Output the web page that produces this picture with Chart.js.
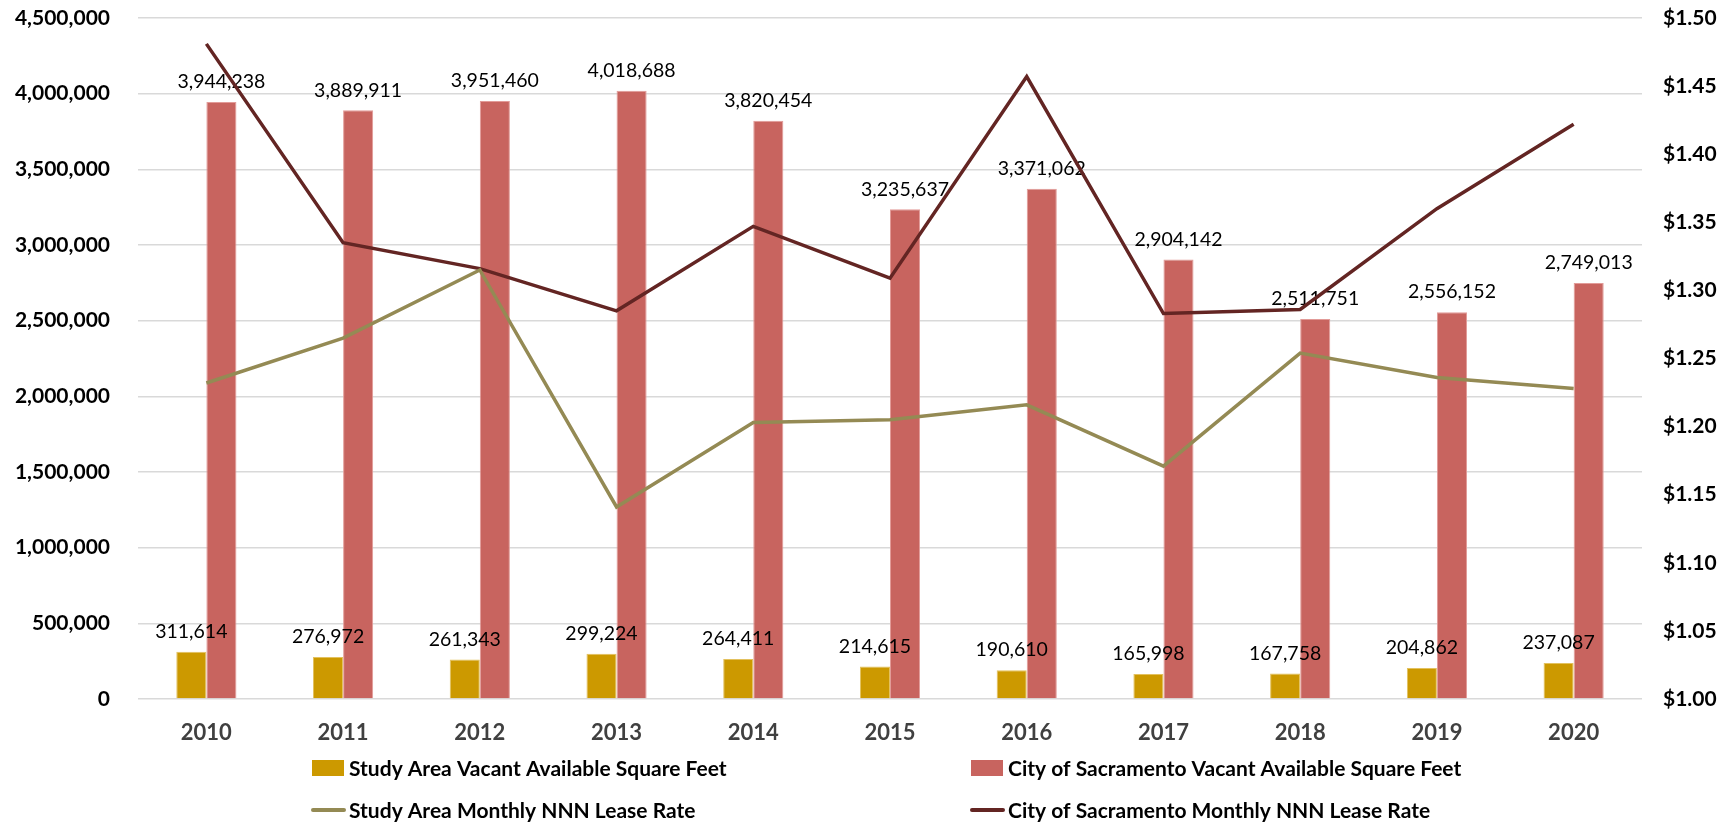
<!DOCTYPE html>
<html>
<head>
<meta charset="utf-8">
<script src="https://cdn.jsdelivr.net/npm/chart.js@4/dist/chart.umd.min.js"></script>
<style>
  html, body { margin: 0; padding: 0; background: #ffffff; }
  #wrap { width: 1725px; height: 824px; }
</style>
</head>
<body>
<div id="wrap"><canvas id="c" width="1725" height="824"></canvas></div>
<script>
const years = ['2010','2011','2012','2013','2014','2015','2016','2017','2018','2019','2020'];
const studyAreaVacantSF = [311614, 276972, 261343, 299224, 264411, 214615, 190610, 165998, 167758, 204862, 237087];
const cityVacantSF = [3944238, 3889911, 3951460, 4018688, 3820454, 3235637, 3371062, 2904142, 2511751, 2556152, 2749013];
const studyAreaLeaseRate = [1.232, 1.265, 1.315, 1.141, 1.203, 1.205, 1.216, 1.171, 1.254, 1.236, 1.228];
const cityLeaseRate = [1.481, 1.335, 1.316, 1.285, 1.347, 1.309, 1.457, 1.283, 1.286, 1.360, 1.422];
const leftTicks = [0, 500000, 1000000, 1500000, 2000000, 2500000, 3000000, 3500000, 4000000, 4500000];
const rightTicks = [1.00, 1.05, 1.10, 1.15, 1.20, 1.25, 1.30, 1.35, 1.40, 1.45, 1.50];

const COLORS = {
  gold: '#CC9900',
  goldEdge: '#E3C15E',
  red: '#C8645F',
  redEdge: '#E29B98',
  olive: '#948A54',
  maroon: '#632523'
};

const fmt = v => Number(v).toLocaleString('en-US');

const barLabelPlugin = {
  id: 'barLabels',
  afterDatasetDraw(chart, args) {
    const ds = chart.data.datasets[args.index];
    if (ds.type !== 'bar') return;
    const ctx = chart.ctx;
    const meta = args.meta;
    ctx.save();
    ctx.font = '19.5px Lato';
    ctx.fillStyle = '#000000';
    ctx.textAlign = 'center';
    ctx.textBaseline = 'middle';
    meta.data.forEach((el, i) => {
      ctx.fillText(fmt(ds.data[i]), el.x, el.y - 20);
    });
    ctx.restore();
  }
};

const legendPlugin = {
  id: 'gridLegend',
  afterDraw(chart) {
    const ctx = chart.ctx;
    const items = chart.data.datasets.map(d => ({ label: d.label, type: d.type, color: d.type === 'bar' ? d.backgroundColor : d.borderColor }));
    const cols = [312, 971];
    const rows = [768, 810];
    const order = [[0, 0], [1, 0], [0, 1], [1, 1]];
    ctx.save();
    ctx.font = 'bold 21px Lato';
    ctx.textBaseline = 'middle';
    ctx.textAlign = 'left';
    items.forEach((it, i) => {
      const x = cols[order[i][0]];
      const y = rows[order[i][1]];
      if (it.type === 'bar') {
        ctx.fillStyle = it.color;
        ctx.fillRect(x, y - 8, 32, 16);
      } else {
        ctx.strokeStyle = it.color;
        ctx.lineWidth = 4;
        ctx.lineCap = 'round';
        ctx.beginPath();
        ctx.moveTo(x + 1, y);
        ctx.lineTo(x + 32, y);
        ctx.stroke();
      }
      ctx.fillStyle = '#000000';
      ctx.fillText(it.label, x + 37, y + 1);
    });
    ctx.restore();
  }
};

function noVerticalPadding(s) {
  s.paddingTop = 0;
  s.paddingBottom = 0;
}

const chart = new Chart(document.getElementById('c'), {
  data: {
    labels: years,
    datasets: [
      {
        type: 'bar',
        label: 'Study Area Vacant Available Square Feet',
        data: studyAreaVacantSF,
        backgroundColor: COLORS.gold,
        borderColor: COLORS.goldEdge,
        borderWidth: 1,
        yAxisID: 'y',
        order: 1,
        barPercentage: 1.0,
        categoryPercentage: 0.44
      },
      {
        type: 'bar',
        label: 'City of Sacramento Vacant Available Square Feet',
        data: cityVacantSF,
        backgroundColor: COLORS.red,
        borderColor: COLORS.redEdge,
        borderWidth: 1,
        yAxisID: 'y',
        order: 1,
        barPercentage: 1.0,
        categoryPercentage: 0.44
      },
      {
        type: 'line',
        label: 'Study Area Monthly NNN Lease Rate',
        data: studyAreaLeaseRate,
        borderColor: COLORS.olive,
        backgroundColor: COLORS.olive,
        borderWidth: 3.5,
        pointRadius: 0,
        tension: 0,
        fill: false,
        yAxisID: 'y1',
        order: 0
      },
      {
        type: 'line',
        label: 'City of Sacramento Monthly NNN Lease Rate',
        data: cityLeaseRate,
        borderColor: COLORS.maroon,
        backgroundColor: COLORS.maroon,
        borderWidth: 3.5,
        pointRadius: 0,
        tension: 0,
        fill: false,
        yAxisID: 'y1',
        order: 0
      }
    ]
  },
  options: {
    responsive: false,
    animation: false,
    layout: { padding: { top: 18, left: 0, right: 0, bottom: 0 } },
    plugins: {
      legend: { display: false },
      tooltip: { enabled: false },
      title: { display: false }
    },
    scales: {
      x: {
        offset: true,
        grid: { display: false, drawTicks: false },
        border: { display: false },
        ticks: {
          color: '#404040',
          font: { family: 'Lato', size: 22, weight: 'bold' },
          padding: 21
        },
        afterFit(s) { s.height = 125; }
      },
      y: {
        position: 'left',
        min: leftTicks[0],
        max: leftTicks[leftTicks.length - 1],
        afterBuildTicks(s) { s.ticks = leftTicks.map(v => ({ value: v })); },
        grid: { color: '#D9D9D9', lineWidth: 1.5, drawTicks: false },
        border: { display: false },
        ticks: {
          color: '#000000',
          font: { family: 'Lato', size: 21, weight: 'bold' },
          padding: 28,
          callback: v => fmt(v)
        },
        afterFit(s) { s.width = 138; noVerticalPadding(s); }
      },
      y1: {
        position: 'right',
        min: rightTicks[0],
        max: rightTicks[rightTicks.length - 1],
        afterBuildTicks(s) { s.ticks = rightTicks.map(v => ({ value: v })); },
        grid: { display: false, drawTicks: false },
        border: { display: false },
        ticks: {
          color: '#000000',
          font: { family: 'Lato', size: 21, weight: 'bold' },
          padding: 21,
          callback: v => '$' + Number(v).toFixed(2)
        },
        afterFit(s) { s.width = 83; noVerticalPadding(s); }
      }
    }
  },
  plugins: [barLabelPlugin, legendPlugin]
});
</script>
</body>
</html>
